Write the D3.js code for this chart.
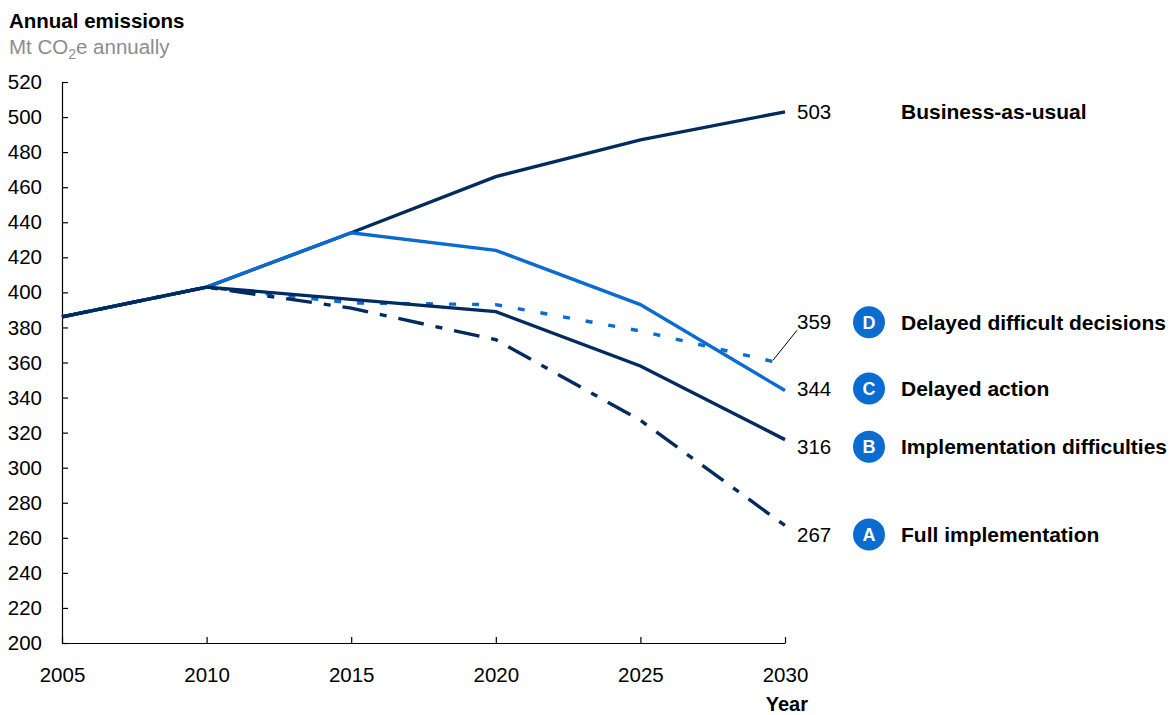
<!DOCTYPE html>
<html>
<head>
<meta charset="utf-8">
<script src="https://cdn.jsdelivr.net/npm/d3@7"></script>
<style>
  body { margin: 0; background: #fff; }
  svg { font-family: Arial, "Liberation Sans", sans-serif; }
</style>
</head>
<body>
<svg width="1171" height="715"></svg>
<script>
// data
var years = [2005, 2010, 2015, 2020, 2025, 2030];
var bau = [386, 403, 434, 466, 487, 503];
var delayedAction = [386, 403, 434, 424, 393, 344];
var delayedDecisions = [386, 403, 394, 393, 378, 359];
var implDifficulties = [386, 403, 396, 389, 358, 316];
var fullImpl = [386, 403, 391, 373, 327, 267];
var yTicks = [200, 220, 240, 260, 280, 300, 320, 340, 360, 380, 400, 420, 440, 460, 480, 500, 520];

var NAVY = '#002b5f',
    BLUE = '#0a6bd0';

var series = [
    { id: 'bau', values: bau, color: NAVY, dash: null, name: 'Business-as-usual', letter: null, labelDy: 0 },
    { id: 'C', values: delayedAction, color: BLUE, dash: null, name: 'Delayed action', letter: 'C', labelDy: -2 },
    { id: 'D', values: delayedDecisions, color: BLUE, dash: '7,16', name: 'Delayed difficult decisions', letter: 'D', labelDy: -42 },
    { id: 'B', values: implDifficulties, color: NAVY, dash: null, name: 'Implementation difficulties', letter: 'B', labelDy: 7 },
    { id: 'A', values: fullImpl, color: NAVY, dash: '26,12,7,12', name: 'Full implementation', letter: 'A', labelDy: 9 },
];

var svg = d3.select('svg');

var x = d3.scaleLinear().domain([2005, 2030]).range([62, 785]);
var y = d3.scaleLinear().domain([200, 520]).range([643, 82]);

// title
svg.append('text').attr('x', 9).attr('y', 28)
   .attr('font-size', 20.5).attr('font-weight', 'bold').text('Annual emissions');
var sub = svg.append('text').attr('x', 9).attr('y', 54)
   .attr('font-size', 20.5).attr('fill', '#8c8c8c');
sub.append('tspan').text('Mt CO');
sub.append('tspan').attr('font-size', 14).attr('dy', 5).text('2');
sub.append('tspan').attr('dy', -5).text('e annually');

// axes
var yAxis = svg.append('g')
    .attr('transform', 'translate(62,0)')
    .call(d3.axisLeft(y).tickValues(yTicks).tickSizeInner(-6).tickSizeOuter(0).tickPadding(20));
var xAxis = svg.append('g')
    .attr('transform', 'translate(0,643)')
    .call(d3.axisBottom(x).tickValues(years).tickFormat(d3.format('d')).tickSizeInner(-6).tickSizeOuter(0).tickPadding(24));

[yAxis, xAxis].forEach(function (a) {
    a.attr('font-family', null).attr('font-size', 20.5);
    a.selectAll('text').attr('fill', '#000');
    a.selectAll('line, path').attr('stroke', '#000').attr('stroke-width', 1.2);
});

svg.append('text').attr('x', 808).attr('y', 711).attr('text-anchor', 'end')
   .attr('font-size', 20).attr('font-weight', 'bold').text('Year');

// lines
var line = d3.line()
    .x(function (d, i) { return x(years[i]); })
    .y(function (d) { return y(d); });

svg.selectAll('path.series')
   .data(series)
   .enter().append('path')
   .attr('class', 'series')
   .attr('d', function (d) { return line(d.values); })
   .attr('fill', 'none')
   .attr('stroke', function (d) { return d.color; })
   .attr('stroke-width', 3.4)
   .attr('stroke-dasharray', function (d) { return d.dash; });

// end values
series.forEach(function (s) {
    var last = s.values[s.values.length - 1];
    var ly = y(last) + s.labelDy;
    svg.append('text').attr('x', 797).attr('y', ly).attr('dy', '0.35em')
       .attr('font-size', 20.5).text(last);
    if (s.id === 'D') {
        svg.append('line')
           .attr('x1', x(2030) - 12).attr('y1', y(last) - 4)
           .attr('x2', 797).attr('y2', ly + 8)
           .attr('stroke', '#000').attr('stroke-width', 1);
    }
    if (s.letter) {
        svg.append('circle').attr('cx', 869).attr('cy', ly).attr('r', 16).attr('fill', BLUE);
        svg.append('text').attr('x', 869).attr('y', ly).attr('dy', '0.36em')
           .attr('text-anchor', 'middle').attr('font-size', 18).attr('font-weight', 'bold')
           .attr('fill', '#fff').text(s.letter);
    }
    svg.append('text').attr('x', 901).attr('y', ly).attr('dy', '0.35em')
       .attr('font-size', 21).attr('font-weight', 'bold').text(s.name);
});
</script>
</body>
</html>
